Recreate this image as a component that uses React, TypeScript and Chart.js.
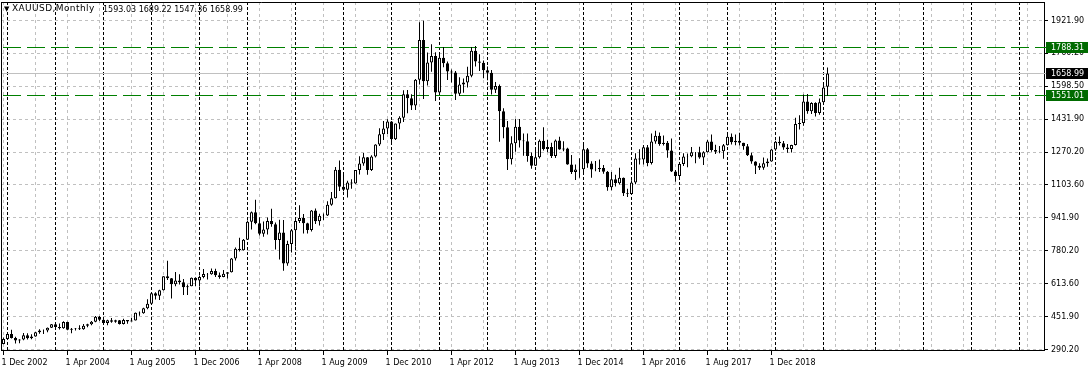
import React, { useEffect, useRef } from 'react';
import { Chart, registerables } from 'chart.js';

Chart.register(...registerables);

// ---- Data: XAUUSD monthly bars, first bar = Dec 2002, last bar = Feb 2020 ----
const firstBarYear = 2002;
const firstBarMonth = 11; // 0-based (December)

const opens = [
  317.3,
  342.2, 367.5, 347.4, 334.9, 339.4, 361.4, 346.0, 354.8, 375.6, 385.0, 384.0, 398.0,
  416, 402, 396, 427, 388, 393, 395, 391, 408, 416, 428, 453,
  438, 422, 435, 428, 435, 417, 437, 429, 434, 473, 470, 495,
  517, 569, 557, 584, 654, 644, 614, 633, 624, 599, 604, 646,
  632, 650, 665, 663, 680, 659, 650, 666, 673, 742, 790, 783,
  834, 924, 971, 916, 864, 885, 928, 912, 833, 871, 717, 814,
  882, 928, 942, 916, 883, 979, 926, 954, 955, 1008, 1040, 1182,
  1097, 1083, 1118, 1113, 1180, 1213, 1244, 1181, 1248, 1307, 1358, 1386,
  1421, 1333, 1411, 1439, 1556, 1536, 1500, 1628, 1825, 1620, 1714, 1746,
  1565, 1737, 1710, 1669, 1664, 1559, 1604, 1614, 1648, 1772, 1719, 1712,
  1675, 1663, 1578, 1597, 1472, 1393, 1234, 1313, 1395, 1327, 1323, 1250,
  1202, 1244, 1326, 1284, 1295, 1250, 1327, 1282, 1287, 1208, 1171, 1183,
  1184, 1283, 1213, 1183, 1184, 1190, 1172, 1095, 1134, 1115, 1142, 1065,
  1061, 1118, 1238, 1232, 1293, 1215, 1322, 1350, 1309, 1316, 1277, 1173,
  1151, 1210, 1248, 1249, 1268, 1269, 1242, 1269, 1322, 1280, 1271, 1274,
  1303, 1345, 1318, 1325, 1315, 1298, 1253, 1223, 1201, 1191, 1214, 1222,
  1282, 1321, 1313, 1292, 1284, 1305, 1409, 1413, 1520, 1472, 1513, 1463,
  1517, 1593.03,
];

const highs = [
  349.3,
  372.0, 388.5, 352.9, 341.5, 372.5, 370.8, 366.0, 378.0, 391.0, 390.0, 399.0, 417.0,
  427, 419, 430, 428, 397, 397, 410, 417, 418, 431, 456, 456,
  438, 438, 447, 438, 437, 443, 437, 448, 474, 479, 497, 540,
  571, 574, 587, 654, 730, 645, 675, 664, 640, 612, 647, 648,
  657, 690, 669, 692, 691, 672, 684, 675, 744, 796, 845, 838,
  930, 975, 1033, 946, 925, 945, 988, 920, 934, 932, 830, 888,
  937, 1006, 962, 919, 982, 990, 963, 965, 1025, 1071, 1195, 1227,
  1162, 1127, 1134, 1180, 1249, 1265, 1245, 1253, 1308, 1388, 1424, 1432,
  1424, 1411, 1447, 1576, 1577, 1556, 1632, 1913, 1921, 1763, 1804, 1764,
  1764, 1791, 1719, 1679, 1671, 1640, 1634, 1692, 1791, 1796, 1755, 1724,
  1694, 1677, 1617, 1605, 1487, 1424, 1348, 1434, 1434, 1362, 1361, 1267,
  1280, 1332, 1392, 1331, 1315, 1332, 1345, 1323, 1291, 1255, 1208, 1239,
  1307, 1290, 1224, 1225, 1232, 1205, 1175, 1170, 1157, 1191, 1143, 1088,
  1129, 1263, 1283, 1305, 1304, 1362, 1375, 1367, 1352, 1324, 1337, 1180,
  1220, 1264, 1262, 1295, 1270, 1296, 1274, 1331, 1357, 1306, 1299, 1310,
  1366, 1361, 1356, 1365, 1316, 1309, 1266, 1224, 1214, 1243, 1237, 1284,
  1326, 1346, 1324, 1310, 1306, 1439, 1452, 1555, 1557, 1517, 1516, 1535,
  1611, 1689.22,
];

const lows = [
  316.4,
  341.0, 344.2, 319.8, 321.0, 336.0, 340.3, 340.5, 353.0, 368.0, 367.0, 376.0, 397.0,
  398, 390, 393, 386, 371, 385, 387, 388, 400, 411, 425, 431,
  418, 411, 423, 423, 414, 414, 418, 429, 434, 458, 468, 490,
  515, 538, 536, 583, 635, 543, 604, 612, 560, 560, 604, 605,
  603, 643, 637, 661, 650, 641, 648, 642, 672, 731, 776, 781,
  833, 885, 912, 855, 850, 860, 899, 786, 736, 681, 706, 771,
  800, 918, 865, 866, 876, 913, 905, 932, 952, 1003, 1039, 1076,
  1075, 1044, 1087, 1112, 1158, 1202, 1157, 1176, 1243, 1300, 1329, 1359,
  1309, 1329, 1382, 1418, 1462, 1478, 1478, 1605, 1532, 1600, 1668, 1523,
  1565, 1690, 1627, 1614, 1527, 1547, 1564, 1590, 1641, 1694, 1672, 1636,
  1626, 1555, 1562, 1321, 1338, 1180, 1208, 1271, 1292, 1251, 1221, 1187,
  1202, 1238, 1277, 1268, 1240, 1240, 1281, 1273, 1206, 1160, 1131, 1142,
  1167, 1191, 1142, 1174, 1170, 1162, 1077, 1080, 1098, 1109, 1052, 1046,
  1061, 1110, 1208, 1208, 1199, 1208, 1311, 1301, 1302, 1241, 1171, 1122,
  1146, 1200, 1194, 1244, 1214, 1236, 1205, 1267, 1271, 1260, 1264, 1236,
  1302, 1307, 1303, 1302, 1281, 1250, 1211, 1160, 1180, 1182, 1196, 1221,
  1276, 1302, 1281, 1266, 1267, 1302, 1381, 1400, 1459, 1458, 1446, 1454,
  1517, 1547.36,
];

const closes = [
  342.2,
  367.5, 347.4, 334.9, 339.4, 361.4, 346.0, 354.8, 375.6, 385.0, 384.0, 398.0, 416.0,
  402, 396, 427, 388, 393, 395, 391, 408, 416, 428, 453, 438,
  422, 435, 428, 435, 417, 437, 429, 434, 473, 470, 495, 517,
  569, 557, 584, 654, 644, 614, 633, 624, 599, 604, 646, 632,
  650, 665, 663, 680, 659, 650, 666, 673, 742, 790, 783, 834,
  924, 971, 916, 864, 885, 928, 912, 833, 871, 717, 814, 882,
  928, 942, 916, 883, 979, 926, 954, 955, 1008, 1040, 1182, 1097,
  1083, 1118, 1113, 1180, 1213, 1244, 1181, 1248, 1307, 1358, 1386, 1421,
  1333, 1411, 1439, 1556, 1536, 1500, 1628, 1825, 1620, 1714, 1746, 1565,
  1737, 1710, 1669, 1664, 1559, 1604, 1614, 1648, 1772, 1719, 1712, 1675,
  1663, 1578, 1597, 1472, 1393, 1234, 1313, 1395, 1327, 1323, 1250, 1202,
  1244, 1326, 1284, 1295, 1250, 1327, 1282, 1287, 1208, 1171, 1183, 1184,
  1283, 1213, 1183, 1184, 1190, 1172, 1095, 1134, 1115, 1142, 1065, 1061,
  1118, 1238, 1232, 1293, 1215, 1322, 1350, 1309, 1316, 1277, 1173, 1151,
  1210, 1248, 1249, 1268, 1269, 1242, 1269, 1322, 1280, 1271, 1274, 1303,
  1345, 1318, 1325, 1315, 1298, 1253, 1223, 1201, 1191, 1214, 1222, 1282,
  1321, 1313, 1292, 1284, 1305, 1409, 1413, 1520, 1472, 1513, 1463, 1517,
  1589, 1658.99,
];

const xTickIndex = [0, 16, 32, 48, 64, 80, 96, 112, 128, 144, 160, 176, 192];
const xTickLabels = [
  '1 Dec 2002', '1 Apr 2004', '1 Aug 2005', '1 Dec 2006', '1 Apr 2008', '1 Aug 2009',
  '1 Dec 2010', '1 Apr 2012', '1 Aug 2013', '1 Dec 2014', '1 Apr 2016', '1 Aug 2017', '1 Dec 2018',
];
const yTickLabels = [
  '290.20', '451.90', '613.60', '780.20', '941.90', '1103.60',
  '1270.20', '1431.90', '1598.50', '1760.20', '1921.90',
];
const yTickBase = 290.2;
const yTickStep = 163.17;

const levelValues = [1788.31, 1551.01];
const levelLabels = ['1788.31', '1551.01'];
const bidValue = 1658.99;
const bidLabel = '1658.99';

const headerSymbol = 'XAUUSD,Monthly';
const headerOHLC = '1593.03 1689.22 1547.36 1658.99';

// ---- view window ----
const X_MIN = -0.625;
const X_MAX = 260.125;
const Y_MIN = 287.72;
const Y_MAX = 2013.65;

const yTickValues = yTickLabels.map((_, k) => yTickBase + k * yTickStep);

// vertical grid every 8 bars
const gridIdx: number[] = [];
for (let i = 0; i <= X_MAX; i += 8) gridIdx.push(i);

// period separators (first bar of each year); future bars extrapolated by 30 days like MT4
const separatorIdx: number[] = [];
const nBars = closes.length;
for (let i = 1; i < nBars; i++) {
  if ((firstBarMonth + i) % 12 === 0) separatorIdx.push(i);
}
{
  const lastMonthAbs = firstBarMonth + nBars - 1;
  const lastY = firstBarYear + Math.floor(lastMonthAbs / 12);
  const lastM = lastMonthAbs % 12;
  const t0 = Date.UTC(lastY, lastM, 1);
  let prevYear = lastY;
  for (let n = 1; nBars - 1 + n <= X_MAX; n++) {
    const yr = new Date(t0 + n * 30 * 86400000).getUTCFullYear();
    if (yr !== prevYear) separatorIdx.push(nBars - 1 + n);
    prevYear = yr;
  }
}

const FONT_FAMILY = 'DejaVu Sans';
const FONT_SIZE = 8;
const LEVEL_COLOR = '#008000';
const LEVEL_BOX = '#006b00';

const overlayPlugin = {
  id: 'mt4Overlay',
  beforeDatasetsDraw(chart: any) {
    const { ctx, chartArea: a } = chart;
    const xs = chart.scales.x;
    const ys = chart.scales.y;
    const al = (p: number) => Math.round(p - 0.5) + 0.5;
    ctx.save();
    ctx.beginPath();
    ctx.rect(a.left, a.top, a.right - a.left, a.bottom - a.top);
    ctx.clip();
    ctx.lineWidth = 1;
    const hline = (v: number, x0: number) => {
      const py = al(ys.getPixelForValue(v));
      ctx.beginPath();
      ctx.moveTo(x0, py);
      ctx.lineTo(a.right, py);
      ctx.stroke();
    };
    const vline = (i: number) => {
      const px = al(xs.getPixelForValue(i));
      ctx.beginPath();
      ctx.moveTo(px, a.top);
      ctx.lineTo(px, a.bottom);
      ctx.stroke();
    };
    ctx.strokeStyle = '#c0c0c0';
    ctx.setLineDash([3, 3]);
    yTickValues.forEach((v) => hline(v, a.left));
    gridIdx.forEach(vline);
    ctx.strokeStyle = '#000000';
    ctx.setLineDash([3, 2]);
    separatorIdx.forEach(vline);
    ctx.setLineDash([]);
    ctx.strokeStyle = '#c0c0c0';
    hline(bidValue, a.left);
    ctx.strokeStyle = LEVEL_COLOR;
    ctx.setLineDash([18, 6]);
    levelValues.forEach((v) => hline(v, a.left - 22));
    ctx.restore();
  },
  afterDraw(chart: any) {
    const { ctx, chartArea: a } = chart;
    const ys = chart.scales.y;
    ctx.save();
    ctx.lineWidth = 1;
    ctx.strokeStyle = '#000000';
    ctx.setLineDash([]);
    ctx.beginPath();
    ctx.moveTo(a.left, a.top + 0.5);
    ctx.lineTo(a.right, a.top + 0.5);
    ctx.moveTo(a.left + 0.5, a.top);
    ctx.lineTo(a.left + 0.5, a.bottom);
    ctx.stroke();

    const box = (v: number, label: string, bg: string, tick: string) => {
      const row = Math.round(ys.getPixelForValue(v) - 0.5);
      ctx.fillStyle = tick;
      ctx.fillRect(a.right, row, 3, 1);
      ctx.fillStyle = bg;
      ctx.fillRect(a.right + 2, row - 5, 42, 11);
      ctx.fillStyle = '#ffffff';
      ctx.font = `${FONT_SIZE}px "${FONT_FAMILY}"`;
      ctx.textBaseline = 'middle';
      ctx.textAlign = 'left';
      ctx.fillText(label, a.right + 7, row + 0.5);
    };
    levelValues.forEach((v, k) => box(v, levelLabels[k], LEVEL_BOX, LEVEL_COLOR));
    box(bidValue, bidLabel, '#000000', '#c0c0c0');
    ctx.restore();
  },
};

export default function App() {
  const canvasRef = useRef<HTMLCanvasElement | null>(null);

  useEffect(() => {
    const canvas = canvasRef.current;
    if (!canvas) return;
    const wickData = closes.map((c, i) => ({ x: i, y: [lows[i], highs[i]] }));
    const bodyData = closes.map((c, i) => ({
      x: i,
      y: [Math.min(opens[i], c), Math.max(opens[i], c)],
    }));
    const bodyColors = closes.map((c, i) => (c >= opens[i] ? '#ffffff' : '#000000'));
    const tickFont = { family: FONT_FAMILY, size: FONT_SIZE };

    const chart = new Chart(canvas, {
      type: 'bar',
      data: {
        datasets: [
          {
            data: wickData as any,
            backgroundColor: '#000000',
            borderWidth: 0,
            barThickness: 1,
            grouped: false,
            inflateAmount: 0,
            order: 2,
          } as any,
          {
            data: bodyData as any,
            backgroundColor: bodyColors,
            borderColor: '#000000',
            borderWidth: 1,
            borderSkipped: false,
            barThickness: 3,
            grouped: false,
            inflateAmount: 0,
            order: 1,
          } as any,
        ],
      },
      options: {
        animation: false,
        responsive: false,
        devicePixelRatio: 1,
        events: [],
        layout: { padding: { left: 1, top: 2, right: 0, bottom: 0 } },
        plugins: {
          legend: { display: false },
          tooltip: { enabled: false },
          title: { display: false },
        },
        scales: {
          x: {
            type: 'linear',
            min: X_MIN,
            max: X_MAX,
            offset: false,
            bounds: 'data',
            grid: {
              display: true,
              drawOnChartArea: false,
              drawTicks: true,
              tickLength: 5,
              color: '#000000',
              tickColor: '#000000',
              offset: false,
            },
            border: { display: true, color: '#000000', width: 1 },
            ticks: {
              autoSkip: false,
              maxRotation: 0,
              minRotation: 0,
              align: 'start',
              labelOffset: -2,
              padding: 3,
              color: '#000000',
              font: tickFont,
              callback: (value: any) => {
                const k = xTickIndex.indexOf(Math.round(Number(value)));
                return k >= 0 ? xTickLabels[k] : '';
              },
            },
            afterBuildTicks: (s: any) => {
              s.ticks = xTickIndex.map((v) => ({ value: v }));
            },
            afterFit: (s: any) => {
              s.height = 23;
              s.paddingLeft = 0;
              s.paddingRight = 0;
            },
          },
          y: {
            type: 'linear',
            position: 'right',
            min: Y_MIN,
            max: Y_MAX,
            bounds: 'data',
            grid: {
              display: true,
              drawOnChartArea: false,
              drawTicks: true,
              tickLength: 4,
              color: '#000000',
              tickColor: '#000000',
            },
            border: { display: true, color: '#000000', width: 1 },
            ticks: {
              padding: 3,
              color: '#000000',
              font: tickFont,
              callback: (value: any) => {
                const k = Math.round((Number(value) - yTickBase) / yTickStep);
                return yTickLabels[k] ?? '';
              },
            },
            afterBuildTicks: (s: any) => {
              s.ticks = yTickValues.map((v) => ({ value: v }));
            },
            afterFit: (s: any) => {
              s.width = 47;
              s.paddingTop = 0;
              s.paddingBottom = 0;
            },
          },
        },
      } as any,
      plugins: [overlayPlugin as any],
    });
    return () => chart.destroy();
  }, []);

  return (
    <div
      style={{
        position: 'fixed',
        left: 0,
        top: 0,
        width: 1091,
        height: 373,
        background: '#ffffff',
        overflow: 'hidden',
      }}
    >
      <canvas ref={canvasRef} width={1091} height={373} style={{ display: 'block' }} />
      <div
        style={{
          position: 'absolute',
          left: 4,
          top: 4,
          font: `7px "${FONT_FAMILY}"`,
          lineHeight: '11px',
          color: '#000',
        }}
      >
        ▼
      </div>
      <div
        style={{
          position: 'absolute',
          left: 12,
          top: 3,
          font: `9px "${FONT_FAMILY}"`,
          letterSpacing: '0.4px',
          lineHeight: '11px',
          whiteSpace: 'nowrap',
          color: '#000',
        }}
      >
        {headerSymbol}
      </div>
      <div
        style={{
          position: 'absolute',
          left: 103,
          top: 4,
          font: `${FONT_SIZE}px "${FONT_FAMILY}"`,
          lineHeight: '11px',
          whiteSpace: 'nowrap',
          color: '#000',
        }}
      >
        {headerOHLC}
      </div>
    </div>
  );
}
